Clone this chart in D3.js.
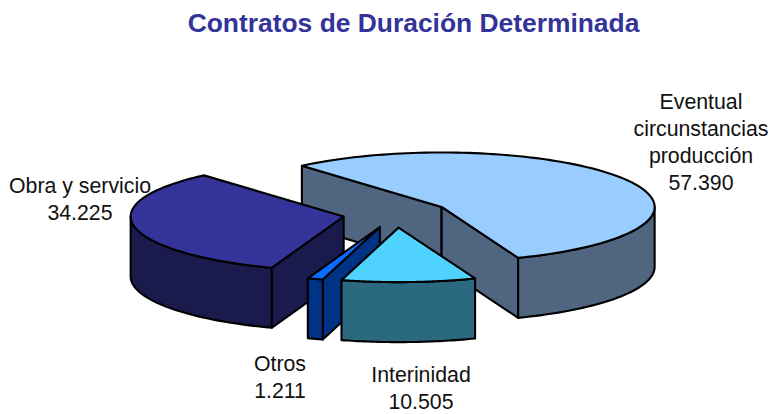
<!DOCTYPE html>
<html><head><meta charset="utf-8">
<script src="https://cdn.jsdelivr.net/npm/d3@7"></script>
<style>html,body{margin:0;padding:0;background:#fff}svg{display:block}text{font-family:"Liberation Sans",Arial,sans-serif}</style>
</head><body><svg id="c" width="773" height="414"></svg>
<script>
const categories = ["Eventual circunstancias producción","Interinidad","Otros","Obra y servicio"];
const values = [57390,10505,1211,34225];
const valueLabels = ["57.390","10.505","1.211","34.225"];
const topColors = ["#99CCFF","#50D2FF","#0A6CFF","#333399"];
const sideColors = ["#4F6580","#2A6980","#003385","#1A1A4D"];
const labelLines = [["Eventual","circunstancias","producción","57.390"],["Interinidad","10.505"],["Otros","1.211"],["Obra y servicio","34.225"]];
const labelPos = [[701,108.5],[421,381.5],[280,370.5],[80,193]];

const W=773,H=414,depth=60,explode=0.25,sw=2.1;
const svg=d3.select("#c");
svg.append("text").attr("x",413.5).attr("y",32).attr("text-anchor","middle")
  .attr("font-size",26.4).attr("font-weight","bold").attr("fill","#333399").text("Contratos de Duración Determinada");

const sx=d3.scaleLinear().domain([-1,1]).range([396-213,396+213]);
const sy=d3.scaleLinear().domain([-1,1]).range([214-54.5,214+54.5]);
const start=-41*Math.PI/180;
const arcs=d3.pie().sort(null).startAngle(start).endAngle(start+2*Math.PI)(values);
const line=d3.line();

[0,3,2,1].forEach(i=>{
  const a=arcs[i], mid=(a.startAngle+a.endAngle)/2;
  const ox=explode*Math.sin(mid), oy=-explode*Math.cos(mid);
  const P=t=>[sx(ox+Math.sin(t)),sy(oy-Math.cos(t))];
  const C=[sx(ox),sy(oy)];
  const down=p=>[p[0],p[1]+depth];
  const g=svg.append("g");
  const wall=pts=>g.append("path").attr("d",line(pts)+"Z").attr("fill",sideColors[i])
    .attr("stroke","#000").attr("stroke-width",sw).attr("stroke-linejoin","round");
  [[a.startAngle,-1],[a.endAngle,1]].forEach(([t,s])=>{
    if(s*Math.sin(t)>0){const p=P(t);wall([C,p,down(p),down(C)]);}
  });
  const lo=Math.max(a.startAngle,Math.PI/2), hi=Math.min(a.endAngle,3*Math.PI/2);
  if(hi>lo){
    const ts=d3.range(0,41).map(k=>lo+(hi-lo)*k/40);
    const upper=ts.map(P), lower=upper.map(down).reverse();
    wall(upper.concat(lower));
  }
  const ts=d3.range(0,121).map(k=>a.startAngle+(a.endAngle-a.startAngle)*k/120);
  g.append("path").attr("d",line([C].concat(ts.map(P)))+"Z").attr("fill",topColors[i])
    .attr("stroke","#000").attr("stroke-width",sw).attr("stroke-linejoin","round");
});

labelLines.forEach((ls,i)=>{
  ls.forEach((t,j)=>svg.append("text").attr("x",labelPos[i][0]).attr("y",labelPos[i][1]+j*27)
    .attr("text-anchor","middle").attr("font-size",21.3).attr("fill","#111").text(t));
});
</script></body></html>
